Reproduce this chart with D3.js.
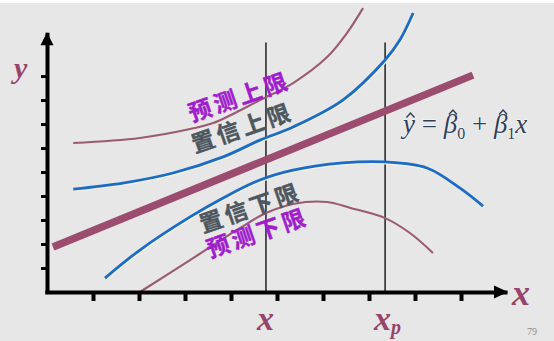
<!DOCTYPE html>
<html>
<head>
<meta charset="utf-8">
<script src="https://cdn.jsdelivr.net/npm/d3@7"></script>
<style>
  html, body { margin: 0; padding: 0; background: #fff; }
  svg { display: block; }
</style>
</head>
<body>
<svg id="chart"></svg>
<script>
// x, y in axis units (one tick = one unit)
const xTicks = [1, 2, 3, 4, 5, 6, 7, 8, 9];
const yTicks = [1, 2, 3, 4, 5, 6, 7, 8, 9];

const fitLine = [[0.13, 1.875], [9.26, 9.04]];
const confUpper = [[0.57, 4.29], [1.65, 4.54], [2.74, 4.96], [3.83, 5.63], [4.63, 6.33], [5.35, 6.88], [6.43, 8.0], [7.35, 9.67], [7.67, 10.5], [7.96, 11.63]];
const confLower = [[1.26, 0.58], [2.02, 1.75], [3.11, 3.13], [3.83, 3.92], [4.63, 4.67], [5.35, 5.08], [6.43, 5.38], [7.35, 5.42], [8.26, 5.17], [8.98, 4.33], [9.48, 3.58]];
const predUpper = [[0.57, 6.21], [2.02, 6.42], [3.11, 6.79], [3.61, 7.04], [4.63, 8.0], [5.35, 8.71], [6.09, 9.79], [6.52, 10.79], [6.87, 11.83]];
const predLower = [[2.02, 0.0], [3.11, 1.33], [4.2, 2.67], [4.76, 3.29], [5.35, 3.67], [6.09, 3.75], [6.6, 3.5], [7.35, 3.08], [7.89, 2.46], [8.39, 1.63]];

const xMarks = [4.76, 7.35];
const xMarkSubs = ["", "p"];
const bandLabels = ["预测上限", "置信上限", "置信下限", "预测下限"];
const pageNo = "79";

const width = 554, height = 341;
const x = d3.scaleLinear().domain([0, 10]).range([47, 507]);
const y = d3.scaleLinear().domain([0, 12.17]).range([292, 0]);
const yTop = 10.83;   // arrow tip of the y axis
const guideTop = 10.4;

const maroon = "#9c4c6e", thinMaroon = "#9a5a72", blue = "#1a6cc6";
const purple = "#a01ccc", gray = "#4e565e";

const svg = d3.select("#chart").attr("width", width).attr("height", height);

svg.append("rect").attr("x", 0).attr("y", 3).attr("width", width).attr("height", height - 3)
  .attr("fill", "#e7e7e7");

const line = d3.line().x(d => x(d[0])).y(d => y(d[1])).curve(d3.curveCatmullRom.alpha(0.5));

// guide lines at x and x_p
svg.selectAll("line.guide").data(xMarks).enter().append("line")
  .attr("class", "guide")
  .attr("x1", d => x(d)).attr("x2", d => x(d))
  .attr("y1", y(guideTop)).attr("y2", y(0))
  .attr("stroke", "#111").attr("stroke-width", 1.4);

// thin prediction bands
[predUpper, predLower].forEach(pts => {
  svg.append("path").datum(pts).attr("d", line)
    .attr("fill", "none").attr("stroke", thinMaroon).attr("stroke-width", 2.1);
});

// confidence bands with a faint light edge
[confUpper, confLower].forEach(pts => {
  svg.append("path").datum(pts).attr("d", line)
    .attr("transform", "translate(0.8,1)")
    .attr("fill", "none").attr("stroke", "#f6f1e6").attr("stroke-width", 3);
  svg.append("path").datum(pts).attr("d", line)
    .attr("fill", "none").attr("stroke", blue).attr("stroke-width", 2.8);
});

// fitted regression line
svg.append("path").datum(fitLine).attr("d", d3.line().x(d => x(d[0])).y(d => y(d[1])))
  .attr("fill", "none").attr("stroke", maroon).attr("stroke-width", 7.5);

// axes
const xAxisScale = x.copy().domain([-0.05, 10]).range([x(-0.05), x(10)]);
const yAxisScale = y.copy().domain([0, yTop]).range([y(0), y(yTop)]);

const gx = svg.append("g").attr("transform", `translate(0,${y(0)})`)
  .call(d3.axisBottom(xAxisScale).tickValues(xTicks).tickSize(9).tickSizeOuter(0).tickFormat(""));
gx.select(".domain").attr("stroke", "#000").attr("stroke-width", 4);
gx.selectAll(".tick line").attr("stroke", "#000").attr("stroke-width", 4);

const gy = svg.append("g").attr("transform", `translate(${x(0)},0)`)
  .call(d3.axisLeft(yAxisScale).tickValues(yTicks).tickSize(6).tickSizeOuter(0).tickFormat(""));
gy.select(".domain").attr("stroke", "#000").attr("stroke-width", 4);
gy.selectAll(".tick line").attr("stroke", "#000").attr("stroke-width", 3);

// arrow heads
const xt = x(10) + 1, yt = y(yTop);
svg.append("path").attr("d", `M${xt},${y(0)} L${xt - 14},${y(0) - 6.5} L${xt - 14},${y(0) + 6.5} Z`).attr("fill", "#000");
svg.append("path").attr("d", `M${x(0)},${yt} L${x(0) - 6.5},${yt + 13} L${x(0) + 6.5},${yt + 13} Z`).attr("fill", "#000");

// axis letters
const letterStyle = s => s.attr("font-family", "'Liberation Serif', 'Times New Roman', serif")
  .attr("font-style", "italic").attr("font-weight", "bold").attr("fill", "#96446a");

svg.append("text").attr("x", 14).attr("y", 78).attr("font-size", 30).text("y").call(letterStyle);
svg.append("text").attr("x", xt + 4).attr("y", 305).attr("font-size", 36).text("x").call(letterStyle);

xMarks.forEach((m, i) => {
  const t = svg.append("text").attr("x", x(m) - (xMarkSubs[i] ? 11 : 9)).attr("y", 330)
    .attr("font-size", 34).call(letterStyle);
  t.append("tspan").text("x");
  if (xMarkSubs[i]) t.append("tspan").attr("font-size", 20).attr("dy", 4).text(xMarkSubs[i]);
});

// band labels
const labelLayout = [
  { px: 192, py: 122, color: purple },
  { px: 195, py: 153, color: gray },
  { px: 203, py: 233, color: gray },
  { px: 210, py: 258, color: purple }
];
bandLabels.forEach((lab, i) => {
  const l = labelLayout[i];
  svg.append("text")
    .attr("transform", `translate(${l.px},${l.py}) rotate(-19)`)
    .attr("font-family", "'Noto Sans CJK SC', sans-serif")
    .attr("font-weight", "bold").attr("font-size", 23)
    .attr("letter-spacing", 3.5)
    .attr("fill", l.color)
    .attr("stroke", l.color).attr("stroke-width", 0.4)
    .text(lab);
});

// regression formula, hats drawn over the glyphs
const formulaColor = "#2e3f5c";
const f = svg.append("text").attr("x", 403).attr("y", 133)
  .attr("font-family", "'Liberation Serif', 'Times New Roman', serif")
  .attr("font-style", "italic").attr("font-size", 27).attr("fill", formulaColor)
  .attr("stroke", "#f4f4f4").attr("stroke-width", 1.5).attr("paint-order", "stroke");
const hatted = [];
hatted.push(f.append("tspan").text("y"));
f.append("tspan").attr("font-style", "normal").text(" = ");
hatted.push(f.append("tspan").text("\u03B2"));
f.append("tspan").attr("font-size", 16).attr("dy", 6).attr("font-style", "normal").text("0");
f.append("tspan").attr("dy", -6).attr("font-style", "normal").text(" + ");
hatted.push(f.append("tspan").text("\u03B2"));
f.append("tspan").attr("font-size", 16).attr("dy", 6).attr("font-style", "normal").text("1");
f.append("tspan").attr("dy", -6).text("x");

hatted.forEach((t, i) => {
  const b = t.node().getExtentOfChar(0);
  const cx = b.x + b.width / 2 + (i === 0 ? 1.5 : 2.5);
  const top = i === 0 ? 133 - 20 : b.y + 1;
  svg.append("path")
    .attr("d", `M${cx - 4},${top + 4.5} L${cx},${top} L${cx + 4},${top + 4.5}`)
    .attr("fill", "none").attr("stroke", formulaColor).attr("stroke-width", 1.4);
});

svg.append("text").attr("x", 527).attr("y", 335)
  .attr("font-family", "'Liberation Serif', serif").attr("font-size", 10)
  .attr("fill", "#8a8a8a").text(pageNo);
</script>
</body>
</html>
